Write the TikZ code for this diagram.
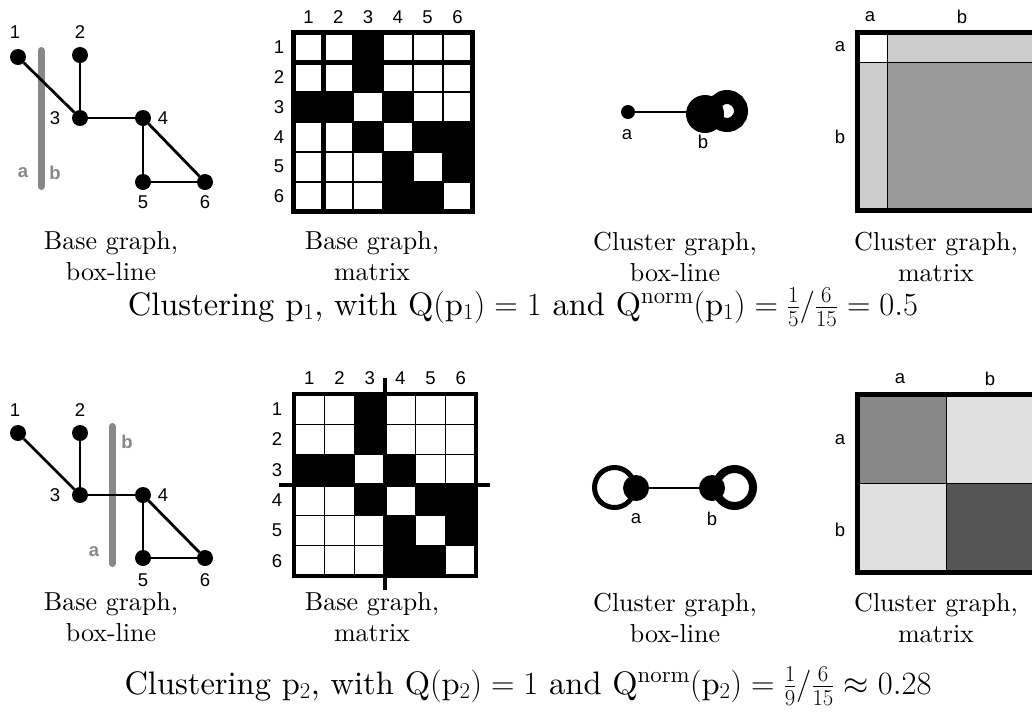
\RequirePackage{fix-cm}
\documentclass[tikz,border=0pt]{standalone}
\usepackage{fontspec}
\setmainfont{lmroman10-regular.otf}
\newfontfamily\labfont{Liberation Sans}
\definecolor{barg}{HTML}{888888}
\definecolor{cmA}{HTML}{CCCCCC}
\definecolor{cmB}{HTML}{999999}
\definecolor{cmC}{HTML}{888888}
\definecolor{cmD}{HTML}{E0E0E0}
\definecolor{cmE}{HTML}{555555}
\begin{document}
\begin{tikzpicture}[x=1pt,y=-1pt,
  vtx/.style={circle,fill=black,inner sep=0pt,minimum size=16pt},
  edge/.style={line width=2.8pt},
  cedge/.style={line width=2.5pt},
  lbl/.style={font=\labfont\fontsize{18.5}{21}\selectfont, inner sep=0pt},
  glbl/.style={font=\labfont\bfseries\fontsize{18.5}{21}\selectfont, text=barg, inner sep=0pt},
  bar/.style={line width=7pt, draw=barg, line cap=round},
  capt/.style={font=\fontsize{26}{31}\selectfont, align=center, inner sep=0pt},
  ttl/.style={font=\fontsize{32.5}{39}\selectfont, inner sep=0pt, anchor=base},
]
\useasboundingbox (0,0) rectangle (1032,716);
\clip (0,0) rectangle (1032,716);
\fill[white] (0,0) rectangle (1032,716);

% ================= TOP ROW =================
% base graph, box-line
\draw[bar] (41,50.5) -- (41,186.5);
\node[vtx] (u1) at (18,57) {};
\node[vtx] (u2) at (80,55) {};
\node[vtx] (u3) at (80,118) {};
\node[vtx] (u4) at (143,118) {};
\node[vtx] (u5) at (143,182) {};
\node[vtx] (u6) at (205,182) {};
\draw[edge] (u1) -- (u3);
\draw[edge] (u2) -- (u3);
\draw[edge] (u3) -- (u4);
\draw[edge] (u4) -- (u5);
\draw[edge] (u4) -- (u6);
\draw[edge] (u5) -- (u6);
\node[lbl] (lu1) at (15,32) {1};
\node[lbl] (lu2) at (80,32) {2};
\node[lbl] (lu3) at (55,118) {3};
\node[lbl] (lu4) at (163,118) {4};
\node[lbl] (lu5) at (143,202) {5};
\node[lbl] (lu6) at (205,202) {6};
\node[glbl] (ga1) at (23,173) {a};
\node[glbl] (gb1) at (55,173) {b};

% base graph, matrix
\def\pmx{293.5}\def\pmy{32.5}\def\pmc{29.8}
\fill[white] (\pmx,\pmy) rectangle ++({6*\pmc},{6*\pmc});
\foreach \r/\c in {1/3,2/3,3/1,3/2,3/4,4/3,4/5,4/6,5/4,5/6,6/4,6/5}
  \fill[black] ({\pmx+(\c-1)*\pmc},{\pmy+(\r-1)*\pmc}) rectangle ++(\pmc,\pmc);
\foreach \i in {1,...,5} {
  \draw[line width=2pt] ({\pmx+\i*\pmc},\pmy) -- ++(0,{6*\pmc});
  \draw[line width=2pt] (\pmx,{\pmy+\i*\pmc}) -- ++({6*\pmc},0);
}
\draw[line width=5pt] ({\pmx+\pmc},\pmy) -- ++(0,{6*\pmc});
\draw[line width=5pt] (\pmx,{\pmy+\pmc}) -- ++({6*\pmc},0);
\draw[line width=5pt] (\pmx,\pmy) rectangle ++({6*\pmc},{6*\pmc});
\foreach \i in {1,...,6} {
  \node[lbl] (tc\i) at ({\pmx+(\i-0.5)*\pmc},17) {\i};
  \node[lbl] (tr\i) at (279,{\pmy+(\i-0.5)*\pmc}) {\i};
}

% cluster graph, box-line
\node[vtx,minimum size=14pt] (ca) at (628,112) {};
\node[vtx,minimum size=38pt] (cb) at (705,114) {};
\draw[cedge] (ca.center) -- (ca -| cb);
\draw[line width=14pt] (727,111) circle[radius=14pt];
\node[lbl] (lca) at (627,135) {a};
\node[lbl] (lcb) at (703,142) {b};

% cluster graph, matrix
\fill[white] (857.5,32.5) rectangle (887.17,62.17);
\fill[cmA] (887.17,32.5) rectangle (1035.5,62.17);
\fill[cmA] (857.5,62.17) rectangle (887.17,210.5);
\fill[cmB] (887.17,62.17) rectangle (1035.5,210.5);
\draw[line width=1.3pt] (887.17,32.5) -- (887.17,210.5);
\draw[line width=1.3pt] (857.5,62.17) -- (1035.5,62.17);
\draw[line width=5pt] (857.5,32.5) rectangle (1035.5,210.5);
\node[lbl] (mca) at (870,17) {a};
\node[lbl] (mcb) at (962,17) {b};
\node[lbl] (mra) at (840,47) {a};
\node[lbl] (mrb) at (840,137) {b};

% captions
\node[capt] (k1) at (111,256.5) {Base graph,\\box-line};
\node[capt] (k2) at (372,256.5) {Base graph,\\matrix};
\node[capt] (k3) at (675,256.5) {Cluster graph,\\box-line};
\node[capt] (k4) at (936,256.5) {Cluster graph,\\matrix};
\node[ttl] (t1) at (523,315) {Clustering $\mathrm{p}_1$, with $\mathrm{Q}(\mathrm{p}_1)=1$ and $\mathrm{Q}^{\mathrm{norm}}(\mathrm{p}_1)=\frac{1}{5}/\frac{6}{15}=0.5$};

% ================= BOTTOM ROW =================
\draw[bar] (112,426.5) -- (112,563.5);
\node[vtx] (w1) at (18,433) {};
\node[vtx] (w2) at (80,433) {};
\node[vtx] (w3) at (80,495) {};
\node[vtx] (w4) at (143,495) {};
\node[vtx] (w5) at (143,558) {};
\node[vtx] (w6) at (205,558) {};
\draw[edge] (w1) -- (w3);
\draw[edge] (w2) -- (w3);
\draw[edge] (w3) -- (w4);
\draw[edge] (w4) -- (w5);
\draw[edge] (w4) -- (w6);
\draw[edge] (w5) -- (w6);
\node[lbl] (lw1) at (15,410) {1};
\node[lbl] (lw2) at (80,410) {2};
\node[lbl] (lw3) at (55,495) {3};
\node[lbl] (lw4) at (163,495) {4};
\node[lbl] (lw5) at (143,580) {5};
\node[lbl] (lw6) at (205,580) {6};
\node[glbl] (gb2) at (127,442) {b};
\node[glbl] (ga2) at (94,552) {a};

% base graph, matrix
\def\qmx{294}\def\qmy{394}\def\qmc{30.33}
\fill[white] (\qmx,\qmy) rectangle ++({6*\qmc},{6*\qmc});
\foreach \r/\c in {1/3,2/3,3/1,3/2,3/4,4/3,4/5,4/6,5/4,5/6,6/4,6/5}
  \fill[black] ({\qmx+(\c-1)*\qmc},{\qmy+(\r-1)*\qmc}) rectangle ++(\qmc,\qmc);
\foreach \i in {1,...,5} {
  \draw[line width=1.2pt] ({\qmx+\i*\qmc},\qmy) -- ++(0,{6*\qmc});
  \draw[line width=1.2pt] (\qmx,{\qmy+\i*\qmc}) -- ++({6*\qmc},0);
}
\draw[line width=4.5pt] (\qmx,\qmy) rectangle ++({6*\qmc},{6*\qmc});
\draw[line width=4.5pt] ({\qmx+3*\qmc},378) -- ({\qmx+3*\qmc},590);
\draw[line width=4.5pt] (279,{\qmy+3*\qmc}) -- (490,{\qmy+3*\qmc});
\foreach \i in {1,...,6} {
  \node[lbl] (bc\i) at ({\qmx+(\i-0.5)*\qmc},378) {\i};
  \node[lbl] (br\i) at (277,{\qmy+(\i-0.5)*\qmc}) {\i};
}

% cluster graph, box-line
\draw[line width=5pt] (614.5,487.5) circle[radius=20pt];
\draw[line width=8pt] (734.5,487.5) circle[radius=18.5pt];
\node[vtx,minimum size=26pt] (da) at (636,488) {};
\node[vtx,minimum size=26pt] (db) at (712,488) {};
\draw[cedge] (da) -- (db);
\node[lbl] (lda) at (636,519) {a};
\node[lbl] (ldb) at (712,519) {b};

% cluster graph, matrix
\fill[cmC] (857.5,394.5) rectangle (946.5,483.5);
\fill[cmD] (946.5,394.5) rectangle (1035.5,483.5);
\fill[cmD] (857.5,483.5) rectangle (946.5,572.5);
\fill[cmE] (946.5,483.5) rectangle (1035.5,572.5);
\draw[line width=1.3pt] (946.5,394.5) -- (946.5,572.5);
\draw[line width=1.3pt] (857.5,483.5) -- (1035.5,483.5);
\draw[line width=5pt] (857.5,394.5) rectangle (1035.5,572.5);
\node[lbl] (nca) at (900,379) {a};
\node[lbl] (ncb) at (990,379) {b};
\node[lbl] (nra) at (840,440) {a};
\node[lbl] (nrb) at (840,530) {b};

% captions
\node[capt] (k5) at (111,617.5) {Base graph,\\box-line};
\node[capt] (k6) at (372,617.5) {Base graph,\\matrix};
\node[capt] (k7) at (675,617.5) {Cluster graph,\\box-line};
\node[capt] (k8) at (936,617.5) {Cluster graph,\\matrix};
\node[ttl] (t2) at (528,694) {Clustering $\mathrm{p}_2$, with $\mathrm{Q}(\mathrm{p}_2)=1$ and $\mathrm{Q}^{\mathrm{norm}}(\mathrm{p}_2)=\frac{1}{9}/\frac{6}{15}\approx0.28$};
\end{tikzpicture}
\end{document}
